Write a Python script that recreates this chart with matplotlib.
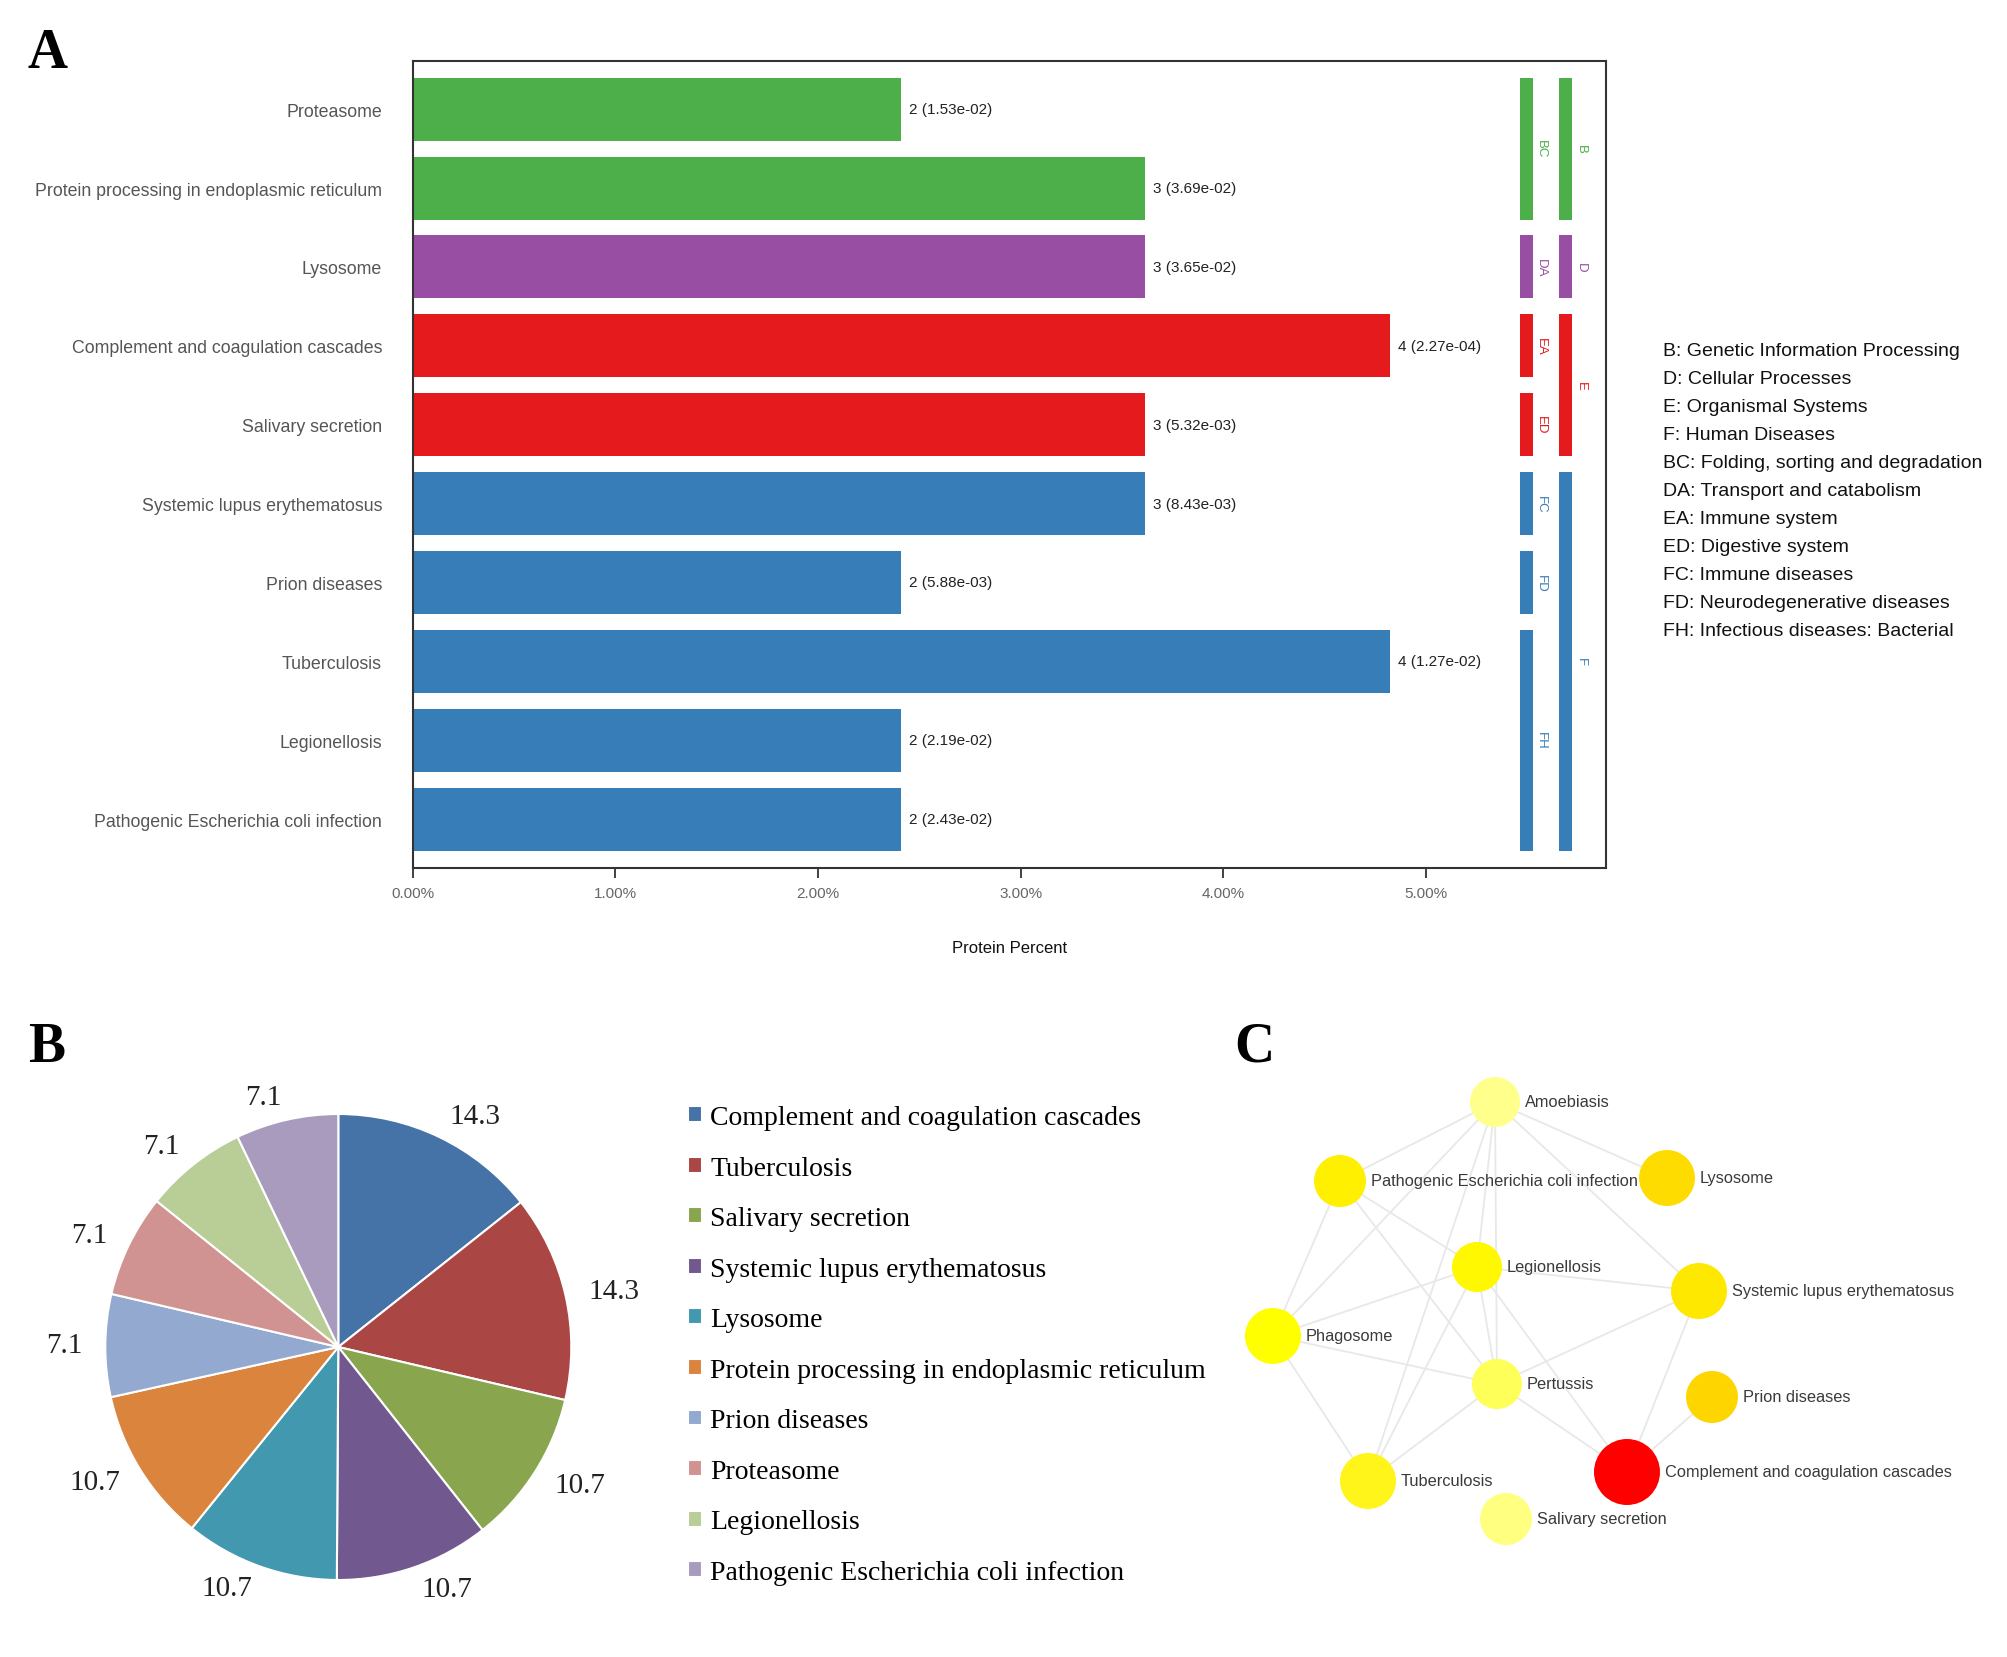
import numpy as np
import matplotlib
matplotlib.use('Agg')
import matplotlib.pyplot as plt
from matplotlib.patches import Circle

plt.rcParams['font.family'] = ['Liberation Sans', 'DejaVu Sans']

# ---------------- panel A data ----------------
pathways = ['Proteasome', 'Protein processing in endoplasmic reticulum', 'Lysosome',
            'Complement and coagulation cascades', 'Salivary secretion',
            'Systemic lupus erythematosus', 'Prion diseases', 'Tuberculosis',
            'Legionellosis', 'Pathogenic Escherichia coli infection']
counts = [2, 3, 3, 4, 3, 3, 2, 4, 2, 2]
pvalues = ['1.53e-02', '3.69e-02', '3.65e-02', '2.27e-04', '5.32e-03',
           '8.43e-03', '5.88e-03', '1.27e-02', '2.19e-02', '2.43e-02']
total_proteins = 83
level1 = ['B', 'B', 'D', 'E', 'E', 'F', 'F', 'F', 'F', 'F']
level2 = ['BC', 'BC', 'DA', 'EA', 'ED', 'FC', 'FD', 'FH', 'FH', 'FH']
x_ticks = [0, 1, 2, 3, 4, 5]
class_legend = ['B: Genetic Information Processing', 'D: Cellular Processes',
                'E: Organismal Systems', 'F: Human Diseases',
                'BC: Folding, sorting and degradation', 'DA: Transport and catabolism',
                'EA: Immune system', 'ED: Digestive system', 'FC: Immune diseases',
                'FD: Neurodegenerative diseases', 'FH: Infectious diseases: Bacterial']
group_colors = {'B': '#4DAF4A', 'D': '#984EA3', 'E': '#E41A1C', 'F': '#377EB8'}

# ---------------- panel B data ----------------
pie_labels = ['Complement and coagulation cascades', 'Tuberculosis', 'Salivary secretion',
              'Systemic lupus erythematosus', 'Lysosome',
              'Protein processing in endoplasmic reticulum', 'Prion diseases',
              'Proteasome', 'Legionellosis', 'Pathogenic Escherichia coli infection']
pie_values = [14.3, 14.3, 10.7, 10.7, 10.7, 10.7, 7.1, 7.1, 7.1, 7.1]
pie_colors = ['#4572A7', '#AA4643', '#89A54E', '#71588F', '#4198AF',
              '#DB843D', '#93A9CF', '#D19392', '#B9CD96', '#A99BBD']

# ---------------- panel C data ----------------
nodes = ['Amoebiasis', 'Pathogenic Escherichia coli infection', 'Lysosome', 'Legionellosis',
         'Systemic lupus erythematosus', 'Phagosome', 'Pertussis', 'Prion diseases',
         'Tuberculosis', 'Complement and coagulation cascades', 'Salivary secretion']
node_x = [1495, 1340, 1667, 1477, 1699, 1273, 1497, 1712, 1368, 1627, 1506]
node_y = [1103, 1182, 1179, 1268, 1292, 1337, 1385, 1398, 1482, 1473, 1520]
node_r = [25, 26, 28, 25, 28, 28, 25, 26, 28, 33, 26]
node_colors = ['#FFFF8C', '#FFF000', '#FFDC00', '#FFF800', '#FFE800', '#FFFF00',
               '#FFFF5A', '#FFD500', '#FFF51A', '#FF0000', '#FFFF80']
edges = [('Amoebiasis', 'Pathogenic Escherichia coli infection'), ('Amoebiasis', 'Lysosome'),
         ('Amoebiasis', 'Phagosome'), ('Amoebiasis', 'Tuberculosis'),
         ('Amoebiasis', 'Legionellosis'), ('Amoebiasis', 'Pertussis'),
         ('Amoebiasis', 'Systemic lupus erythematosus'),
         ('Pathogenic Escherichia coli infection', 'Legionellosis'),
         ('Pathogenic Escherichia coli infection', 'Pertussis'),
         ('Pathogenic Escherichia coli infection', 'Phagosome'),
         ('Legionellosis', 'Phagosome'), ('Legionellosis', 'Systemic lupus erythematosus'),
         ('Legionellosis', 'Tuberculosis'), ('Legionellosis', 'Pertussis'),
         ('Legionellosis', 'Complement and coagulation cascades'),
         ('Pertussis', 'Phagosome'), ('Pertussis', 'Systemic lupus erythematosus'),
         ('Pertussis', 'Tuberculosis'), ('Pertussis', 'Complement and coagulation cascades'),
         ('Phagosome', 'Tuberculosis'),
         ('Systemic lupus erythematosus', 'Complement and coagulation cascades'),
         ('Prion diseases', 'Complement and coagulation cascades')]


def runs(codes):
    out = []
    start = 0
    for i in range(1, len(codes) + 1):
        if i == len(codes) or codes[i] != codes[start]:
            out.append((codes[start], start, i - 1))
            start = i
    return out


W, H = 2008, 1658
fig = plt.figure(figsize=(W / 100, H / 100), dpi=100)

# ---------------- A: bar chart ----------------
ax = fig.add_axes([412.6 / W, 1 - 868.8 / H, 1193 / W, 807.3 / H])
percent = np.array(counts) / total_proteins * 100
ypos = np.arange(len(pathways))
bar_colors = [group_colors[g] for g in level1]
ax.barh(ypos, percent, height=0.8, color=bar_colors)
for y, p, c, pv in zip(ypos, percent, counts, pvalues):
    ax.text(p + 0.04, y, f'{c} ({pv})', va='center', ha='left', fontsize=11, color='#222222')

for codes, xbar in [(level2, 5.493), (level1, 5.689)]:
    for code, i0, i1 in runs(codes):
        col = group_colors[code[0]]
        ax.bar(xbar, i1 - i0 + 0.8, bottom=i0 - 0.4, width=0.065, color=col)
        ax.text(xbar + 0.075, (i0 + i1) / 2, code, rotation=-90, ha='center', va='center',
                fontsize=9.5, color=col)

ax.set_xlim(0, 5.885)
ax.set_ylim(9.617, -0.617)
ax.set_yticks(ypos)
ax.set_yticklabels(pathways, fontsize=12.8, color='#555555')
ax.tick_params(axis='y', length=0, pad=22)
ax.set_xticks(x_ticks)
ax.set_xticklabels([f'{t:.2f}%' for t in x_ticks], fontsize=11, color='#666666')
ax.tick_params(axis='x', length=7, width=1.3, color='#333333', pad=6)
ax.set_xlabel('Protein Percent', fontsize=12, labelpad=29, color='#111111')
for s in ax.spines.values():
    s.set_color('#333333')
    s.set_linewidth(1.5)

for i, line in enumerate(class_legend):
    fig.text(1663 / W, 1 - (351.1 + i * 28.06) / H, line, fontsize=14,
             va='center', ha='left', color='#111111')

# ---------------- B: pie chart ----------------
R = 233
axp = fig.add_axes([(338.3 - 1.3 * R) / W, (H - 1348 - 1.3 * R) / H, 2.6 * R / W, 2.6 * R / H])
wedges, texts = axp.pie(pie_values, colors=pie_colors, startangle=90, counterclock=False,
                        labels=[f'{v}' for v in pie_values], labeldistance=1.1,
                        wedgeprops=dict(edgecolor='white', linewidth=1.5),
                        textprops=dict(fontsize=21, family='Liberation Serif', color='#222222'))
axp.set_xlim(-1.3, 1.3)
axp.set_ylim(-1.3, 1.3)
axp.legend(wedges, pie_labels, loc='upper left', bbox_to_anchor=(688 / W, 1 - 1106 / H),
           bbox_transform=fig.transFigure, frameon=False, borderaxespad=0, borderpad=0,
           handlelength=0.5, handleheight=0.5, handletextpad=0.3, labelspacing=0.92,
           prop=dict(family='Liberation Serif', size=20))

# ---------------- C: network ----------------
axn = fig.add_axes([1200 / W, 0, 808 / W, 618 / H])
axn.set_xlim(1200, 2008)
axn.set_ylim(1658, 1040)
axn.axis('off')
idx = {n: i for i, n in enumerate(nodes)}
for a, b in edges:
    ia, ib = idx[a], idx[b]
    axn.plot([node_x[ia], node_x[ib]], [node_y[ia], node_y[ib]], color='#E8E8E8', lw=1.3, zorder=1)
for n, x, y, r, c in zip(nodes, node_x, node_y, node_r, node_colors):
    axn.add_patch(Circle((x, y), r, facecolor=c, edgecolor='none', zorder=2))
    axn.text(x + r + 5, y, n, fontsize=11.8, va='center', ha='left', color='#3A3A3A', zorder=3)

# ---------------- panel letters ----------------
for letter, px, py in [('A', 28, 28), ('B', 28, 1022), ('C', 1234, 1022)]:
    fig.text(px / W, 1 - py / H, letter, fontsize=40, fontweight='bold',
             family='Liberation Serif', va='top', ha='left')

fig.savefig('out.png', dpi=100)
